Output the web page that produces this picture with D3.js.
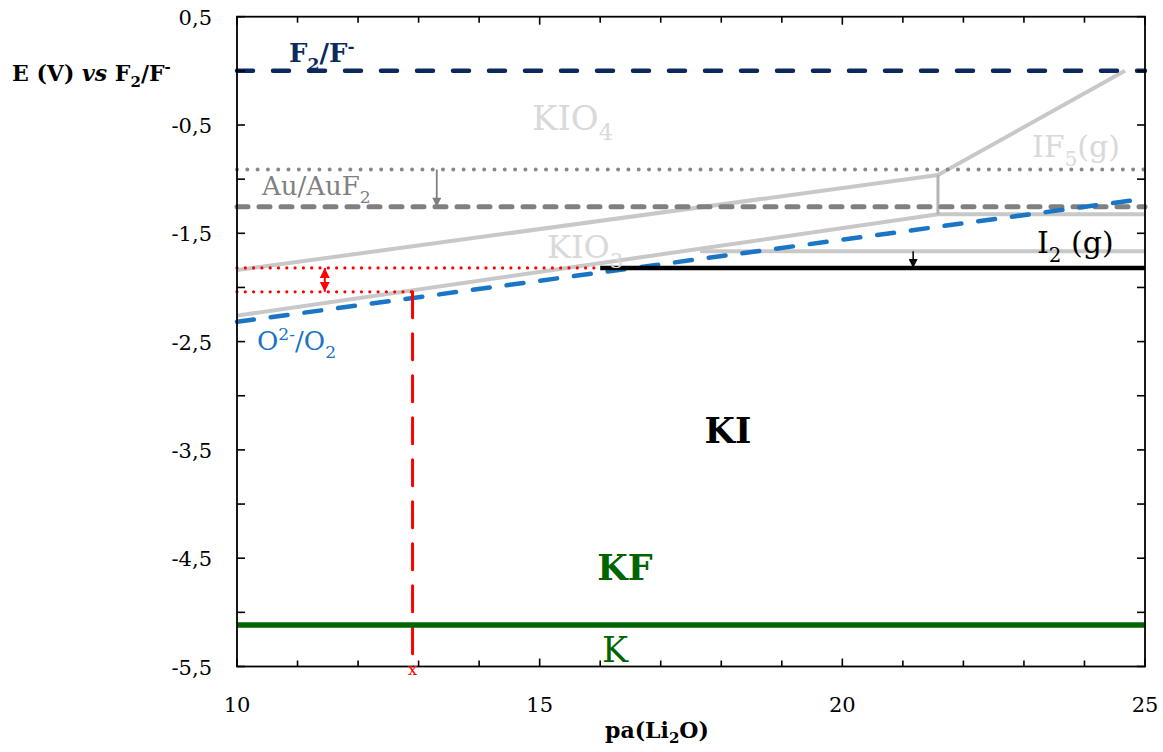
<!DOCTYPE html>
<html><head><meta charset="utf-8">
<script src="https://cdn.jsdelivr.net/npm/d3@7"></script>
<style>
body{margin:0;background:#fff;}
svg text{font-family:"DejaVu Serif","Liberation Serif","Noto Serif",serif;}
</style></head>
<body><svg id="c" width="1163" height="752" font-family="DejaVu Serif, Liberation Serif, serif"></svg>
<script>
// ---- data ----
const xDomain = [10, 25];
const yDomain = [-5.5, 0.5];
const xTickLabels = [10, 15, 20, 25];
const xMinorTicks = d3.range(10, 26, 1);
const yTickLabels = [0.5, -0.5, -1.5, -2.5, -3.5, -4.5, -5.5];
const yMinorTicks = d3.range(0.5, -5.51, -0.5);

const f2Line      = [[10, 0], [25, 0]];
const auDotted    = [[10, -0.91], [25, -0.91]];
const auDashed    = [[10, -1.255], [25, -1.255]];
const kio4Bound   = [[10, -1.84], [21.58, -0.962], [24.67, 0]];
const kio3Bound   = [[10, -2.26], [21.58, -1.325], [25, -1.325]];
const if5Vertical = [[21.58, -0.962], [21.58, -1.325]];
const i2Gray      = [[17.65, -1.665], [25, -1.665]];
const i2Black     = [[16, -1.82], [25, -1.82]];
const o2Line      = [[10, -2.317], [25, -1.18]];
const redDotTop   = [[10, -1.82], [16, -1.82]];
const redDotLow   = [[10, -2.04], [12.9, -2.04]];
const redVertical = [[12.9, -2.04], [12.9, -5.5]];
const kLine       = [[10, -5.117], [25, -5.117]];
const grayArrow   = [[13.3, -0.91], [13.3, -1.255]];
const blackArrow  = [[21.17, -1.665], [21.17, -1.82]];
const redArrow    = [[11.45, -1.82], [11.45, -2.04]];

// ---- layout ----
const svg = d3.select("#c");
const L = 237, R = 1145, T = 16.7, B = 666.5;
const x = d3.scaleLinear().domain(xDomain).range([L, R]);
const y = d3.scaleLinear().domain(yDomain).range([B, T]);
const line = d3.line().x(d => x(d[0])).y(d => y(d[1]));
const fmt = v => d3.format(".1f")(v).replace("\u2212", "-").replace(".", ",");

const defs = svg.append("defs");
function marker(id, color, w, h) {
  defs.append("marker").attr("id", id).attr("viewBox", "0 0 10 10")
    .attr("refX", 10).attr("refY", 5).attr("markerWidth", w).attr("markerHeight", h)
    .attr("markerUnits", "userSpaceOnUse").attr("orient", "auto-start-reverse")
    .append("path").attr("d", "M0,0 L10,5 L0,10 Z").attr("fill", color);
}
marker("ag", "#808080", 10, 9);
marker("ab", "#000", 9, 9);
marker("ar", "#ff0000", 10, 11);

function draw(data, color, width, dash, cap) {
  return svg.append("path").attr("d", line(data)).attr("fill", "none")
    .attr("stroke", color).attr("stroke-width", width)
    .attr("stroke-dasharray", dash || null)
    .attr("stroke-linecap", cap || "butt").attr("stroke-linejoin", "round");
}

// region boundaries
draw(kio4Bound, "#c8c8c8", 4);
draw(kio3Bound, "#c8c8c8", 4);
draw(if5Vertical, "#b4b4b4", 3);
draw(i2Gray, "#c8c8c8", 4);

// reference lines
draw(auDotted, "#888", 4, "0,10.3", "round");
draw(auDashed, "#808080", 5, "11,11", "round");
draw(f2Line, "#0a2a5e", 4.5, "16,20", "round");
draw(o2Line, "#1a75c4", 4.5, "17,17", "round");
draw(i2Black, "#000", 4.5);
draw(redDotTop, "#ff0000", 3.2, "0,8.3", "round");
draw(redDotLow, "#ff0000", 3.2, "0,8.3", "round");
draw(redVertical, "#ff0000", 3, "26,16", "round");
draw(kLine, "#006400", 5.5);

// arrows
draw(grayArrow, "#808080", 1.8).attr("marker-end", "url(#ag)");
draw(blackArrow, "#000", 1.5).attr("marker-end", "url(#ab)");
draw(redArrow, "#ff0000", 2).attr("marker-end", "url(#ar)").attr("marker-start", "url(#ar)");

// axes frame
const g = svg.append("g");
g.append("rect").attr("x", L).attr("y", T).attr("width", R - L).attr("height", B - T)
  .attr("fill", "none").attr("stroke", "#000").attr("stroke-width", 1.8);
xMinorTicks.forEach(v => {
  const len = xTickLabels.includes(v) ? 8 : 6;
  g.append("line").attr("x1", x(v)).attr("x2", x(v)).attr("y1", B).attr("y2", B - len).attr("stroke", "#000").attr("stroke-width", 1.6);
  g.append("line").attr("x1", x(v)).attr("x2", x(v)).attr("y1", T).attr("y2", T + len).attr("stroke", "#000").attr("stroke-width", 1.6);
});
yMinorTicks.forEach(v => {
  g.append("line").attr("x1", L).attr("x2", L + 8).attr("y1", y(v)).attr("y2", y(v)).attr("stroke", "#000").attr("stroke-width", 1.6);
  g.append("line").attr("x1", R).attr("x2", R - 8).attr("y1", y(v)).attr("y2", y(v)).attr("stroke", "#000").attr("stroke-width", 1.6);
});
xTickLabels.forEach(v => {
  g.append("text").attr("x", x(v)).attr("y", 712).attr("text-anchor", "middle")
    .attr("font-size", 21).attr("fill", "#000").text(v);
});
yTickLabels.forEach(v => {
  g.append("text").attr("x", 212).attr("y", y(v) + 8).attr("text-anchor", "end")
    .attr("font-size", 21).attr("fill", "#000").text(fmt(v));
});

// axis titles
const yt = svg.append("text").attr("x", 12).attr("y", 81).attr("font-size", 22).attr("font-weight", "bold").attr("fill", "#000");
yt.append("tspan").text("E (V) ");
yt.append("tspan").attr("font-style", "italic").text("vs");
yt.append("tspan").text(" F");
yt.append("tspan").attr("font-size", 15).attr("dy", 6).text("2");
yt.append("tspan").attr("dy", -6).text("/F");
yt.append("tspan").attr("font-size", 15).attr("dy", -9).text("-");

const xt = svg.append("text").attr("x", 657).attr("y", 738).attr("text-anchor", "middle").attr("font-size", 22).attr("font-weight", "bold").attr("fill", "#000");
xt.append("tspan").text("pa(Li");
xt.append("tspan").attr("font-size", 15).attr("dy", 5).text("2");
xt.append("tspan").attr("dy", -5).text("O)");

// labels: base text, optional subscript/superscript parts
function label(px, py, size, color, weight, parts, anchor) {
  const t = svg.append("text").attr("x", px).attr("y", py).attr("font-size", size)
    .attr("fill", color).attr("font-weight", weight || "normal").attr("text-anchor", anchor || "start");
  let dy = 0;
  parts.forEach(p => {
    const s = t.append("tspan").text(p.t);
    const target = p.sub ? size * 0.3 : p.sup ? -size * 0.38 : 0;
    s.attr("dy", target - dy); dy = target;
    if (p.sub || p.sup) s.attr("font-size", size * 0.66);
  });
  return t;
}
label(289, 62, 26, "#0a2a5e", "bold", [{t: "F"}, {t: "2", sub: 1}, {t: "/F"}, {t: "-", sup: 1}]);
label(532, 130, 34, "#d9d9d9", "normal", [{t: "KIO"}, {t: "4", sub: 1}]);
label(1032, 157, 30, "#d9d9d9", "normal", [{t: "IF"}, {t: "5", sub: 1}, {t: "(g)"}]);
label(262, 195, 26, "#808080", "normal", [{t: "Au/AuF"}, {t: "2", sub: 1}]);
label(547, 258, 32, "#d9d9d9", "normal", [{t: "KIO"}, {t: "3", sub: 1}]);
label(1037, 253, 30, "#000", "normal", [{t: "I"}, {t: "2", sub: 1}, {t: " (g)"}]);
label(257, 350, 26, "#1a75c4", "normal", [{t: "O"}, {t: "2-", sup: 1}, {t: "/O"}, {t: "2", sub: 1}]);
label(728, 443, 35, "#000", "bold", [{t: "KI"}], "middle");
label(625, 580, 35, "#006400", "bold", [{t: "KF"}], "middle");
label(615, 662, 35, "#006400", "normal", [{t: "K"}], "middle");
label(x(12.9), 675, 17, "#ff0000", "normal", [{t: "x"}], "middle");
</script></body></html>
